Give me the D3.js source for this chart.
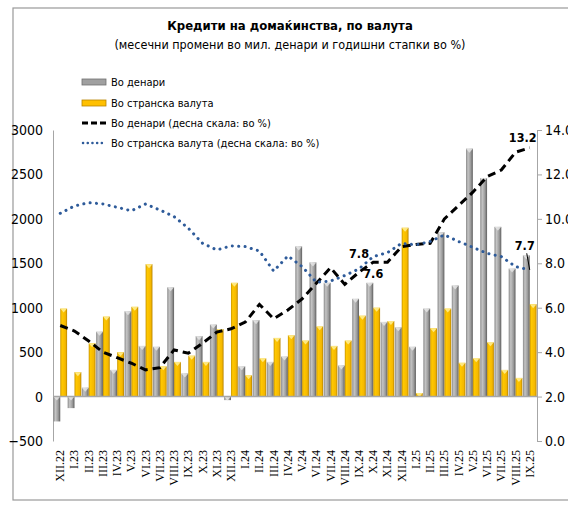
<!DOCTYPE html>
<html>
<head>
<meta charset="utf-8">
<script src="https://cdn.jsdelivr.net/npm/d3@7"></script>
<style>
  body { margin: 0; background: #fff; }
  svg text { font-family: "DejaVu Sans Condensed", "Liberation Sans Narrow", sans-serif; }
</style>
</head>
<body>
<div id="chart"></div>
<script>
var months = ["XII.22","I.23","II.23","III.23","IV.23","V.23","VI.23","VII.23","VIII.23","IX.23","X.23","XI.23","XII.23",
  "I.24","II.24","III.24","IV.24","V.24","VI.24","VII.24","VIII.24","IX.24","X.24","XI.24","XII.24",
  "I.25","II.25","III.25","IV.25","V.25","VI.25","VII.25","VIII.25","IX.25"];

// monthly changes, mil. denars
var denarChange = [-280,-130,100,730,300,960,570,560,1230,260,680,810,-40,
  340,860,390,450,1690,1510,1280,350,1100,1280,840,780,
  560,990,1850,1250,2790,2460,1910,1440,1590];
var foreignChange = [990,275,600,900,500,1010,1490,340,390,460,390,760,1280,
  240,430,660,690,630,790,570,630,910,1000,850,1900,
  40,770,990,380,430,610,300,210,1040];

// annual growth rates, % (right scale)
var denarRate = [5.2,4.95,4.5,4.0,3.75,3.5,3.2,3.3,4.1,3.95,4.4,4.9,5.05,
  5.35,6.15,5.5,5.9,6.4,7.1,7.8,7.05,7.6,8.05,8.05,8.75,
  8.85,8.9,10.0,10.6,11.2,11.9,12.2,13.0,13.2];
var foreignRate = [10.25,10.58,10.73,10.67,10.52,10.36,10.67,10.4,10.1,9.58,8.9,8.6,8.78,
  8.75,8.55,7.65,8.33,7.85,7.15,7.2,7.45,7.75,8.3,8.48,8.9,
  8.83,8.98,9.28,8.98,8.72,8.45,8.3,7.85,7.7];

var leftTicks = [-500,0,500,1000,1500,2000,2500,3000];
var rightTicks = [0,2,4,6,8,10,12,14];

var seriesNames = ["Во денари","Во странска валута","Во денари  (десна скала: во %)","Во странска валута  (десна скала: во %)"];

var labels = [
  {month: "IX.24", value: 8.25, text: "7.8"},
  {month: "X.24", value: 7.35, text: "7.6"},
  {month: "IX.25", value: 13.45, text: "13.2", dx: -7},
  {month: "IX.25", value: 8.6, text: "7.7", dx: -5}
];

var width = 568, height = 505;
var plotLeft = 53, plotRight = 537, plotTop = 130, plotBottom = 441;

var svg = d3.select("#chart").append("svg")
    .attr("width", width)
    .attr("height", height);

var defs = svg.append("defs");
var gGray = defs.append("linearGradient").attr("id", "gradGray");
gGray.append("stop").attr("offset", "0%").attr("stop-color", "#8a8a8a");
gGray.append("stop").attr("offset", "30%").attr("stop-color", "#c4c4c4");
gGray.append("stop").attr("offset", "70%").attr("stop-color", "#9a9a9a");
gGray.append("stop").attr("offset", "100%").attr("stop-color", "#5e5e5e");
var gYel = defs.append("linearGradient").attr("id", "gradYel");
gYel.append("stop").attr("offset", "0%").attr("stop-color", "#c99400");
gYel.append("stop").attr("offset", "25%").attr("stop-color", "#ffc800");
gYel.append("stop").attr("offset", "75%").attr("stop-color", "#f5b800");
gYel.append("stop").attr("offset", "100%").attr("stop-color", "#b88400");

// frame
svg.append("rect")
    .attr("x", 13).attr("y", 8)
    .attr("width", 600).attr("height", 492)
    .attr("fill", "none")
    .attr("stroke", "#999")
    .attr("stroke-width", 1.2);

// title
svg.append("text")
    .attr("x", 290).attr("y", 30)
    .attr("text-anchor", "middle")
    .style("font-size", "13px")
    .style("font-weight", "bold")
    .text("Кредити на домаќинства, по валута");
svg.append("text")
    .attr("x", 290).attr("y", 49)
    .attr("text-anchor", "middle")
    .style("font-size", "12.5px")
    .text("(месечни промени во мил. денари и годишни стапки во %)");

var x0 = d3.scaleBand()
    .domain(months)
    .range([plotLeft, plotRight])
    .paddingInner(0.04)
    .paddingOuter(0.03);

var x1 = d3.scaleBand()
    .domain([0, 1])
    .range([0, x0.bandwidth()])
    .padding(0);

var yLeft = d3.scaleLinear().domain([-500, 3000]).range([plotBottom, plotTop]);
var yRight = d3.scaleLinear().domain([0, 14]).range([plotBottom, plotTop]);

// left axis
var leftAxis = svg.append("g")
    .attr("transform", "translate(" + plotLeft + ",0)")
    .call(d3.axisLeft(yLeft).tickValues(leftTicks).tickSize(0).tickPadding(10).tickFormat(d3.format("d")));
leftAxis.select(".domain").attr("stroke", "#a6a6a6");
leftAxis.selectAll("text").style("font-size", "14px").attr("fill", "#000");

// right axis (labels run off the right edge as in the original)
var rightAxis = svg.append("g")
    .attr("transform", "translate(" + plotRight + ",0)")
    .call(d3.axisRight(yRight).tickValues(rightTicks).tickSize(5).tickSizeOuter(5).tickPadding(3).tickFormat(d3.format(".1f")));
rightAxis.select(".domain").attr("stroke", "#a6a6a6");
rightAxis.selectAll(".tick line").attr("stroke", "#a6a6a6");
rightAxis.selectAll("text").style("font-size", "14px").attr("fill", "#000");

// bars
var barData = months.map(function(m, i) {
    return {month: m, vals: [denarChange[i], foreignChange[i]]};
});

var groups = svg.append("g").selectAll("g")
    .data(barData)
    .enter().append("g")
    .attr("transform", d => "translate(" + x0(d.month) + ",0)");

groups.selectAll("rect")
    .data(d => d.vals.map((v, k) => ({k: k, v: v})))
    .enter().append("rect")
    .attr("x", d => x1(d.k))
    .attr("width", x1.bandwidth())
    .attr("y", d => yLeft(Math.max(0, d.v)))
    .attr("height", d => Math.abs(yLeft(d.v) - yLeft(0)))
    .attr("fill", d => d.k == 0 ? "url(#gradGray)" : "url(#gradYel)");

// little bevel triangle on top of bars
groups.selectAll("path")
    .data(d => d.vals.map((v, k) => ({k: k, v: v})))
    .enter().append("path")
    .attr("d", d => {
        var bx = x1(d.k), bw = x1.bandwidth();
        var top = d.v >= 0 ? yLeft(d.v) : yLeft(0);
        return "M" + bx + "," + top + "L" + (bx + bw) + "," + top + "L" + (bx + bw / 2) + "," + (top + 4) + "Z";
    })
    .attr("fill", d => d.k == 0 ? "#e8e8e8" : "#fff2a0")
    .attr("opacity", 0.8);

// zero line
svg.append("line")
    .attr("x1", plotLeft).attr("x2", plotRight)
    .attr("y1", yLeft(0)).attr("y2", yLeft(0))
    .attr("stroke", "#a6a6a6")
    .attr("stroke-width", 1.5);

// lines
var cx = d => x0(d) + x0.bandwidth() / 2;

var line = d3.line()
    .x((d, i) => cx(months[i]))
    .y(d => yRight(d));

svg.append("path")
    .datum(denarRate)
    .attr("d", line)
    .attr("fill", "none")
    .attr("stroke", "#000")
    .attr("stroke-width", 3)
    .attr("stroke-dasharray", "8,5");

svg.append("path")
    .datum(foreignRate)
    .attr("d", line)
    .attr("fill", "none")
    .attr("stroke", "#2e5b9a")
    .attr("stroke-width", 3)
    .attr("stroke-linecap", "round")
    .attr("stroke-dasharray", "0.1,6.3");

// value labels
svg.selectAll(".vlabel")
    .data(labels)
    .enter().append("text")
    .attr("class", "vlabel")
    .attr("x", d => cx(d.month) + (d.dx || 0))
    .attr("y", d => yRight(d.value))
    .attr("text-anchor", "middle")
    .style("font-size", "12.5px")
    .style("font-weight", "bold")
    .text(d => d.text);

// leader line for last label
svg.append("line")
    .attr("x1", cx("IX.25") - 3).attr("y1", yRight(8.45))
    .attr("x2", cx("IX.25")).attr("y2", yRight(foreignRate[33]))
    .attr("stroke", "#000")
    .attr("stroke-width", 1);

// x labels
svg.append("g").selectAll("text")
    .data(months)
    .enter().append("text")
    .attr("transform", d => "translate(" + (cx(d) + 4) + ",450) rotate(-90)")
    .attr("text-anchor", "end")
    .style("font-family", "'Liberation Serif', 'DejaVu Serif', serif")
    .style("font-size", "12px")
    .text(d => d);

// legend
var legend = svg.append("g").attr("transform", "translate(82,0)");
var legY = [82, 103, 123, 143];

legend.append("rect").attr("x", 0).attr("y", legY[0] - 3).attr("width", 24).attr("height", 6)
    .attr("fill", "#a0a0a0").attr("stroke", "#707070").attr("stroke-width", 0.8);
legend.append("rect").attr("x", 0).attr("y", legY[1] - 3).attr("width", 24).attr("height", 6)
    .attr("fill", "#ffc000").attr("stroke", "#b88400").attr("stroke-width", 0.8);
legend.append("line").attr("x1", 0).attr("x2", 24).attr("y1", legY[2]).attr("y2", legY[2])
    .attr("stroke", "#000").attr("stroke-width", 3).attr("stroke-dasharray", "6,3");
legend.append("line").attr("x1", 1).attr("x2", 24).attr("y1", legY[3]).attr("y2", legY[3])
    .attr("stroke", "#2e5b9a").attr("stroke-width", 2.5).attr("stroke-linecap", "round").attr("stroke-dasharray", "0.1,4.6");

legend.selectAll("text")
    .data(seriesNames)
    .enter().append("text")
    .attr("x", 29)
    .attr("y", (d, i) => legY[i] + 4)
    .style("font-size", "11px")
    .text(d => d);
</script>
</body>
</html>
